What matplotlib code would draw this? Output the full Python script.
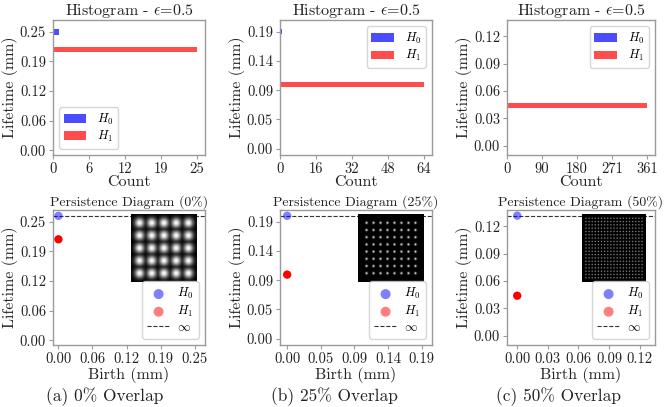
import numpy as np
import matplotlib
matplotlib.use("Agg")
import matplotlib.pyplot as plt

plt.rcParams['font.family'] = ['cmr10', 'DejaVu Serif']
plt.rcParams['mathtext.fontset'] = 'cm'
plt.rcParams['axes.formatter.use_mathtext'] = True
plt.rcParams['axes.unicode_minus'] = False

# ---- data ----
overlaps = ['0%', '25%', '50%']
panel_letters = ['a', 'b', 'c']
counts_h0 = [1, 1, 1]
counts_h1 = [25, 64, 361]
lifetime_h0 = [0.25, 0.188, 0.1254]
lifetime_h1 = [0.213, 0.103, 0.044]
birth_h0 = [0.0, 0.0, 0.0]
birth_h1 = [0.0, 0.0, 0.0]
tick_max = [0.25, 0.188, 0.12]
grid_n = [5, 8, 19]
hist_legend_loc = ['lower left', 'upper right', 'upper right']

W, H = 664, 407
fig = plt.figure(figsize=(W / 100, H / 100), dpi=100)

def rect(x0, x1, y0, y1):
    return [x0 / W, (H - y1) / H, (x1 - x0) / W, (y1 - y0) / H]

col_x = [(53, 205), (280, 432), (507, 655)]
caption_x = [105, 334, 558]
grid_margin = [0.128, 0.128, 0.06]
blob_rel = [0.27, 0.11, 0.12]

spine_c = '#9a9a9a'
text_c = '#222222'

def blob_image(n, margin, rel, size=240):
    yy, xx = np.mgrid[0:size, 0:size] / (size - 1)
    centers = np.linspace(margin, 1 - margin, n)
    spacing = (1 - 2 * margin) / max(n - 1, 1)
    sig = rel * spacing
    img = np.zeros((size, size))
    for cx in centers:
        for cy in centers:
            img = np.maximum(img, np.exp(-((xx - cx) ** 2 + (yy - cy) ** 2) / (2 * sig ** 2)))
    return img

def style_axes(ax):
    for s in ax.spines.values():
        s.set_color(spine_c)
        s.set_linewidth(1.0)
    ax.tick_params(length=3, width=0.8, color=spine_c, labelcolor=text_c, labelsize=10.5, pad=2)

for i in range(3):
    inf_val = lifetime_h0[i] * 1.05
    ylo, yhi = -0.01, inf_val * 1.047
    yt = np.linspace(0, tick_max[i], 5)
    ytl = ['%.2f' % v for v in yt]

    # ---- histogram ----
    ax = fig.add_axes(rect(col_x[i][0], col_x[i][1], 20, 155))
    bh = 0.045 * inf_val
    ax.barh([lifetime_h0[i]], [counts_h0[i]], height=bh, color='blue', alpha=0.7, label='$H_0$')
    ax.barh([lifetime_h1[i]], [counts_h1[i]], height=bh, color='red', alpha=0.7, label='$H_1$')
    cmax = max(counts_h0[i], counts_h1[i])
    xt = np.linspace(0, cmax, 5)
    ax.set_xticks(xt)
    ax.set_xticklabels(['%.0f' % v for v in xt])
    ax.set_xlim(0, cmax * 1.055)
    ax.set_yticks(yt)
    ax.set_yticklabels(ytl)
    ax.set_ylim(ylo, yhi)
    style_axes(ax)
    ax.set_title(r'Histogram - $\epsilon$=0.5', fontsize=11.5, color=text_c, pad=3)
    ax.set_xlabel('Count', fontsize=11.5, color=text_c, labelpad=0)
    ax.set_ylabel('Lifetime (mm)', fontsize=11.5, color=text_c, labelpad=1.5)
    ax.legend(loc=hist_legend_loc[i], fontsize=9, handlelength=1.8, borderpad=0.35,
              labelspacing=0.2, handletextpad=0.9, borderaxespad=0.5)

    # ---- persistence diagram ----
    ax = fig.add_axes(rect(col_x[i][0], col_x[i][1], 210, 345))
    ax.scatter([birth_h0[i]], [inf_val], s=36, color='blue', alpha=0.5, edgecolors='none', label='$H_0$', zorder=3)
    ax.scatter([birth_h1[i]], [lifetime_h1[i]], s=36, color='red',
               alpha=1 - 0.5 ** counts_h1[i], edgecolors='none', zorder=3)
    ax.scatter([], [], s=36, color='red', alpha=0.5, edgecolors='none', label='$H_1$')
    ax.axhline(inf_val, color='#333333', lw=0.8, ls='--', label=r'$\infty$', zorder=2)
    ax.set_xticks(yt)
    ax.set_xticklabels(ytl)
    ax.set_yticks(yt)
    ax.set_yticklabels(ytl)
    ax.set_xlim(-0.01, inf_val * 1.025)
    ax.set_ylim(ylo, yhi)
    style_axes(ax)
    ax.set_title('Persistence Diagram (%s)' % overlaps[i], fontsize=10, color=text_c, pad=3)
    ax.set_xlabel('Birth (mm)', fontsize=11.5, color=text_c, labelpad=1)
    ax.set_ylabel('Lifetime (mm)', fontsize=11.5, color=text_c, labelpad=1.5)
    leg = ax.legend(loc='lower right', fontsize=9, handlelength=1.8, borderpad=0.4,
                    labelspacing=0.2, handletextpad=0.6, markerscale=1.2, borderaxespad=0.5)
    leg.set_zorder(10)

    ins = ax.inset_axes([0.51, 0.47, 0.43, 0.5])
    ins.set_zorder(4)
    ins.imshow(blob_image(grid_n[i], grid_margin[i], blob_rel[i]), cmap='gray',
               vmin=0, vmax=1, aspect='auto', interpolation='antialiased')
    ins.set_xticks([])
    ins.set_yticks([])
    for s in ins.spines.values():
        s.set_visible(False)

    fig.text(caption_x[i] / W, 10 / H, '(%s) %s Overlap' % (panel_letters[i], overlaps[i]),
             ha='center', va='center', fontsize=12.5, color=text_c)

fig.savefig('out.png', dpi=100)
